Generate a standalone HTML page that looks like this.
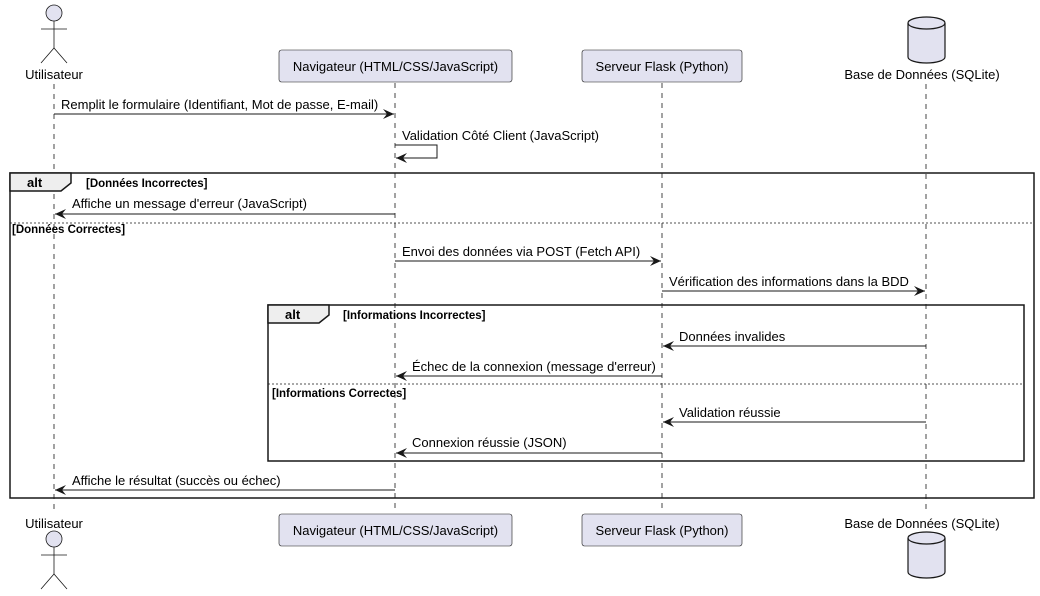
<!DOCTYPE html>
<html><head><meta charset="utf-8"><style>
html,body{margin:0;padding:0;background:#fff;}
svg{display:block;font-family:"Liberation Sans",Arial,sans-serif;}
</style></head><body>
<svg width="1040" height="596" viewBox="0 0 1040 596" xmlns="http://www.w3.org/2000/svg">
<defs>
<marker id="a" markerWidth="12" markerHeight="10" refX="11" refY="5" orient="auto" markerUnits="userSpaceOnUse">
<polygon points="0,0 11,5 0,10 4,5" fill="#181818"/>
</marker>
</defs>
<g stroke="#181818" stroke-width="0.8" stroke-dasharray="5,5">
<line x1="54" y1="84" x2="54" y2="512"/>
<line x1="395" y1="83" x2="395" y2="513"/>
<line x1="662" y1="83" x2="662" y2="513"/>
<line x1="926" y1="84" x2="926" y2="512"/>
</g>
<g fill="#E2E2F0" stroke="#181818" stroke-width="0.6">
<circle cx="54" cy="13" r="8" stroke-width="0.8"/>
<rect x="279" y="50" width="233" height="32" rx="2.5"/>
<rect x="582" y="50" width="160" height="32" rx="2.5"/>
<circle cx="54" cy="539" r="8" stroke-width="0.8"/>
<rect x="279" y="514" width="233" height="32" rx="2.5"/>
<rect x="582" y="514" width="160" height="32" rx="2.5"/>
</g>
<g stroke="#181818" stroke-width="0.8" fill="none">
<line x1="54" y1="21" x2="54" y2="48"/><line x1="41" y1="29" x2="67" y2="29"/>
<polyline points="41,63 54,48 67,63"/>
<line x1="54" y1="547" x2="54" y2="574"/><line x1="41" y1="555" x2="67" y2="555"/>
<polyline points="41,589 54,574 67,589"/>
</g>
<g stroke="#181818" stroke-width="1.2" fill="#E2E2F0">
<path d="M908,23 A18.5,6 0 0 1 945,23 L945,57 A18.5,6 0 0 1 908,57 Z"/>
<path d="M908,23 A18.5,6 0 0 0 945,23" fill="none"/>
<path d="M908,538 A18.5,6 0 0 1 945,538 L945,572 A18.5,6 0 0 1 908,572 Z"/>
<path d="M908,538 A18.5,6 0 0 0 945,538" fill="none"/>
</g>
<g font-size="13" fill="#000">
<text x="54" y="79" text-anchor="middle">Utilisateur</text>
<text x="395.5" y="71" text-anchor="middle">Navigateur (HTML/CSS/JavaScript)</text>
<text x="662" y="71" text-anchor="middle">Serveur Flask (Python)</text>
<text x="922" y="79" text-anchor="middle">Base de Données (SQLite)</text>
<text x="54" y="528" text-anchor="middle">Utilisateur</text>
<text x="395.5" y="535" text-anchor="middle">Navigateur (HTML/CSS/JavaScript)</text>
<text x="662" y="535" text-anchor="middle">Serveur Flask (Python)</text>
<text x="922" y="528" text-anchor="middle">Base de Données (SQLite)</text>
</g>
<g stroke="#181818" fill="none">
<rect x="10" y="173" width="1024" height="325" stroke-width="1.5"/>
<rect x="268" y="305" width="756" height="156" stroke-width="1.5"/>
</g>
<path d="M10,173 L71,173 L71,183 L61,191 L10,191 Z" fill="#EEEEEE" stroke="#181818" stroke-width="1.5"/>
<path d="M268,305 L329,305 L329,315 L319,323 L268,323 Z" fill="#EEEEEE" stroke="#181818" stroke-width="1.5"/>
<g stroke="#181818" stroke-width="0.8" stroke-dasharray="2,2">
<line x1="10" y1="223" x2="1034" y2="223"/>
<line x1="268" y1="384" x2="1024" y2="384"/>
</g>
<g font-size="13" font-weight="bold" fill="#000">
<text x="27" y="187">alt</text>
<text x="285" y="319">alt</text>
</g>
<g font-size="11.5" font-weight="bold" fill="#000">
<text x="86" y="187">[Données Incorrectes]</text>
<text x="12" y="233">[Données Correctes]</text>
<text x="343" y="319">[Informations Incorrectes]</text>
<text x="272" y="397">[Informations Correctes]</text>
</g>
<g stroke="#181818" stroke-width="1" fill="none" marker-end="url(#a)">
<line x1="54" y1="114" x2="394" y2="114"/>
<polyline points="395,145 437,145 437,158 396,158"/>
<line x1="395" y1="214" x2="55" y2="214"/>
<line x1="395" y1="261" x2="661" y2="261"/>
<line x1="662" y1="291" x2="925" y2="291"/>
<line x1="926" y1="346" x2="663" y2="346"/>
<line x1="662" y1="376" x2="396" y2="376"/>
<line x1="926" y1="422" x2="663" y2="422"/>
<line x1="662" y1="453" x2="396" y2="453"/>
<line x1="395" y1="490" x2="55" y2="490"/>
</g>
<g font-size="13" fill="#000">
<text x="61" y="109">Remplit le formulaire (Identifiant, Mot de passe, E-mail)</text>
<text x="402" y="140">Validation Côté Client (JavaScript)</text>
<text x="72" y="208">Affiche un message d'erreur (JavaScript)</text>
<text x="402" y="256">Envoi des données via POST (Fetch API)</text>
<text x="669" y="286">Vérification des informations dans la BDD</text>
<text x="679" y="341">Données invalides</text>
<text x="412" y="371">Échec de la connexion (message d'erreur)</text>
<text x="679" y="417">Validation réussie</text>
<text x="412" y="447">Connexion réussie (JSON)</text>
<text x="72" y="485">Affiche le résultat (succès ou échec)</text>
</g>
</svg>
</body></html>
